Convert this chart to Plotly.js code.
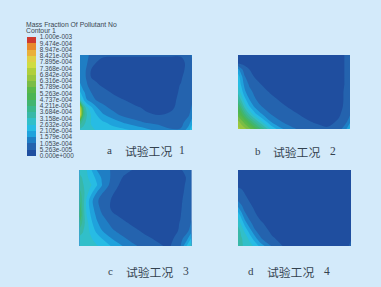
<!DOCTYPE html>
<html><head><meta charset="utf-8">
<script src="https://cdn.plot.ly/plotly-3.0.1.min.js"></script>
<style>html,body{margin:0;padding:0;background:#d3eafa;overflow:hidden}</style>
</head><body><div id="c" style="width:381px;height:287px"></div>
<script>
const tickLabels=["1.000e-003","9.474e-004","8.947e-004","8.421e-004","7.895e-004","7.368e-004","6.842e-004","6.316e-004","5.789e-004","5.263e-004","4.737e-004","4.211e-004","3.684e-004","3.158e-004","2.632e-004","2.105e-004","1.579e-004","1.053e-004","5.263e-005","0.000e+000"];
const levelColors=["#1f4e9f","#2463ae","#1f7ec4","#1fa2dc","#27bce4","#31bfc9","#38b8a8","#3ab88d","#41b570","#4cb553","#5ab849","#7abc45","#98c63f","#b0cf3c","#cfdc42","#dfd045","#eab03a","#e88a2c","#cf3a30"];
const xs=[0,.03,.06,.1,.15,.2,.3,.4,.5,.6,.7,.8,.9,.97,1];
const ys=[0,.1,.2,.3,.4,.5,.6,.7,.8,.9,1];
// mass fraction, in units of 1e-4; rows top to bottom
const caseA=[
[1.2,1.2,1.1,1.0,.8,.65,.6,.6,.6,.6,.6,.6,.6,.9,1.1],
[1.2,1.2,1.1,.8,.5,.3,.3,.3,.3,.3,.3,.3,.3,.75,1.0],
[1.2,1.2,1.0,.5,.4,.3,.3,.3,.3,.3,.3,.3,.3,.8,1.0],
[1.3,1.2,1.0,.52,.4,.3,.3,.3,.3,.3,.3,.3,.45,.85,1.0],
[1.7,1.3,1.1,.85,.6,.45,.3,.3,.3,.3,.3,.3,.55,.9,1.0],
[2.2,1.7,1.4,1.05,.85,.75,.45,.3,.3,.3,.3,.3,.6,.9,1.0],
[3.0,2.2,1.6,1.3,1.0,.9,.75,.52,.3,.3,.3,.35,.65,.9,1.0],
[7.5,3.8,2.8,2.2,1.6,1.2,.9,.75,.6,.42,.3,.4,.7,.9,1.1],
[8,4,3.2,2.6,2.1,1.7,1.2,.9,.75,.6,.52,.6,.8,1.0,1.3],
[4,3.4,3,2.6,2.4,2.2,1.9,1.5,1.2,1.0,.9,.85,.9,1.3,1.9],
[3,2.9,2.8,2.7,2.6,2.5,2.3,2.2,2,1.7,1.4,1.1,1.1,1.9,2.6]];
const caseB=[
[.3,.3,.3,.3,.3,.3,.3,.3,.3,.3,.3,.3,.35,.6,.8],
[.3,.3,.3,.3,.3,.3,.3,.3,.3,.3,.3,.3,.35,.6,.8],
[1.8,1.2,.8,.55,.3,.3,.3,.3,.3,.3,.3,.3,.35,.6,.8],
[2.4,1.8,1.1,.8,.5,.35,.3,.3,.3,.3,.3,.3,.35,.6,.8],
[2.6,2.0,1.4,1.0,.75,.55,.3,.3,.3,.3,.3,.3,.35,.6,.8],
[3,2.4,1.7,1.2,.95,.75,.45,.3,.3,.3,.3,.3,.35,.65,.85],
[3.8,3,2.3,1.6,1.1,.9,.65,.42,.3,.3,.3,.3,.35,.65,.85],
[4.8,4,3,2.2,1.5,1.1,.8,.6,.4,.3,.3,.3,.35,.7,.9],
[5.5,5,4.2,3.2,2.3,1.7,1,.75,.6,.42,.3,.3,.45,.8,1],
[6.5,6,5.5,4.7,3.7,2.8,1.5,1,.8,.6,.45,.35,.6,1,1.4],
[7,6.8,6.5,6,5.2,4.3,2.5,1.6,1.1,.85,.7,.6,.75,1.6,2.3]];
const caseC=[
[3.0,2.9,2.7,2.2,1.6,1.2,1,.7,.45,.3,.3,.3,.45,.8,1.0],
[3.3,3.1,2.8,2.4,2,1.5,.9,.45,.3,.3,.3,.3,.3,.62,.9],
[3.5,3.2,3,2.7,2.2,1.6,.7,.35,.3,.3,.3,.3,.3,.7,.9],
[3.9,3.4,2.9,2.3,1.6,1.1,.55,.3,.3,.3,.3,.3,.3,.83,.95],
[4.3,3.5,2.6,1.8,1.2,.8,.45,.3,.3,.3,.3,.3,.4,.88,1],
[4.7,3.5,2.6,1.9,1.3,.9,.4,.3,.3,.3,.3,.3,.45,.9,1],
[5,3.6,2.7,2.1,1.5,1.1,.6,.4,.3,.3,.3,.3,.5,.9,1],
[4.2,3.5,2.9,2.3,1.7,1.35,.85,.6,.4,.3,.3,.3,.55,.9,1.1],
[3.5,3.2,2.9,2.5,2,1.6,1.1,.8,.6,.4,.35,.32,.58,1,1.4],
[3,3,2.9,2.7,2.4,2.1,1.5,1.1,.8,.6,.45,.35,.8,1.6,2.2],
[2.8,2.9,3,2.9,2.7,2.5,2,1.5,1.1,.8,.6,.45,1,2.4,3.2]];
const caseD=[
[.3,.3,.3,.3,.3,.3,.3,.3,.3,.3,.3,.3,.3,.3,.3],
[.3,.3,.3,.3,.3,.3,.3,.3,.3,.3,.3,.3,.3,.3,.3],
[.4,.35,.3,.3,.3,.3,.3,.3,.3,.3,.3,.3,.3,.3,.3],
[.8,.7,.5,.3,.3,.3,.3,.3,.3,.3,.3,.3,.3,.3,.3],
[1.0,.85,.7,.5,.3,.3,.3,.3,.3,.3,.3,.3,.3,.3,.3],
[1.7,1.2,.9,.7,.45,.3,.3,.3,.3,.3,.3,.3,.3,.3,.3],
[2.5,1.9,1.2,.9,.6,.4,.3,.3,.3,.3,.3,.3,.3,.3,.3],
[3,2.5,1.9,1.2,.85,.6,.3,.3,.3,.3,.3,.3,.3,.3,.3],
[3.4,3,2.5,1.9,1.1,.85,.4,.3,.3,.3,.3,.3,.3,.3,.3],
[3.4,3.2,3,2.5,1.8,1.1,.6,.35,.3,.3,.3,.3,.3,.3,.4],
[3.2,3.2,3.1,2.9,2.5,1.9,1.0,.5,.3,.3,.3,.3,.3,.4,.8]];
const captions=["a","b","c","d"];
const captionName="试验工况";
const W=381,H=287;
const colorscale=[];
levelColors.forEach((c,i)=>{colorscale.push([i/19,c]);colorscale.push([(i+1)/19,c]);});
const panels=[
 {z:caseA,box:[80,192,55,130],lab:[105.5,124,150,"1",178]},
 {z:caseB,box:[238,350,55,129],lab:[253.5,272,151,"2",329]},
 {z:caseC,box:[79.5,191.5,170,246],lab:[106.5,125,271,"3",182]},
 {z:caseD,box:[238,351,170,246],lab:[247.5,266,271,"4",323]}];
const data=[],layout={width:W,height:H,margin:{l:0,r:0,t:0,b:0,autoexpand:false},paper_bgcolor:"#d3eafa",plot_bgcolor:"#d3eafa",showlegend:false,annotations:[]};
const txt=(t,x,y,size,fam,col,anchor)=>({text:t,xref:"paper",yref:"paper",x:x/W,y:1-y/H,xanchor:anchor||"left",yanchor:"middle",showarrow:false,borderpad:0,font:{size:size,family:fam,color:col}});
const serif="Liberation Serif",cjk="Noto Sans CJK SC",sans="Liberation Sans",ink="#33424f";
panels.forEach((p,i)=>{
 const s=i?String(i+1):"";
 data.push({type:"contour",x:xs,y:ys,z:p.z,xaxis:"x"+s,yaxis:"y"+s,zmin:0,zmax:10,zauto:false,autocontour:false,
  contours:{start:0,end:10,size:10/19,coloring:"fill",showlines:false},line:{width:0},colorscale:colorscale,hoverinfo:"skip",
  showscale:i===0,
  colorbar:i===0?{x:26.5/W,xanchor:"left",xpad:0,y:1-37/H,yanchor:"top",ypad:0,lenmode:"pixels",len:119,thicknessmode:"pixels",thickness:8.5,outlinewidth:0,borderwidth:0,
   tickmode:"array",tickvals:tickLabels.map(t=>parseFloat(t)*1e4),ticktext:tickLabels,ticklen:3,tickcolor:"rgba(0,0,0,0)",tickwidth:1,tickfont:{size:6.4,family:sans,color:"#3a4650"}}:undefined});
 layout["xaxis"+s]={domain:[p.box[0]/W,p.box[1]/W],range:[0,1],visible:false,fixedrange:true,anchor:"y"+s};
 layout["yaxis"+s]={domain:[1-p.box[3]/H,1-p.box[2]/H],range:[1,0],visible:false,fixedrange:true,anchor:"x"+s};
 layout.annotations.push(txt(captions[i],p.lab[0],p.lab[2],11,serif,ink));
 layout.annotations.push(txt(captionName,p.lab[1],p.lab[2],11.8,cjk,ink));
 layout.annotations.push(txt(p.lab[3],p.lab[4],p.lab[2],11.5,serif,ink));
});
layout.annotations.push(txt("Mass Fraction Of Pollutant No",25,24.5,6.8,sans,"#3a4650"));
layout.annotations.push(txt("Contour 1",25,30.5,6.8,sans,"#3a4650"));
Plotly.newPlot("c",data,layout,{displayModeBar:false,staticPlot:true});
</script></body></html>
